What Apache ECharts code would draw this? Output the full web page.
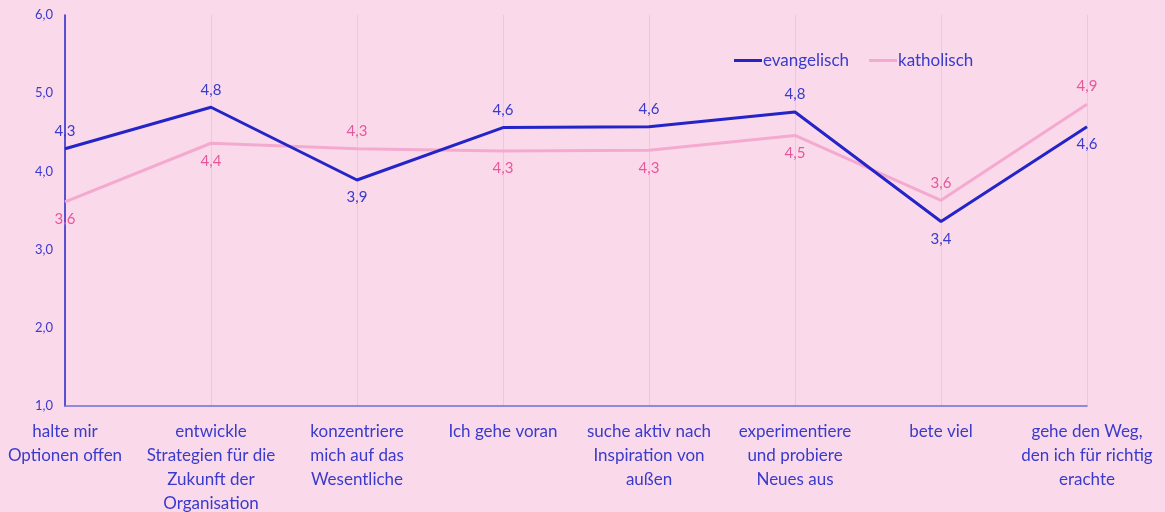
<!DOCTYPE html>
<html>
<head>
<meta charset="utf-8">
<script src="https://cdn.jsdelivr.net/npm/echarts@6/dist/echarts.min.js"></script>
<style>
  html, body { margin: 0; padding: 0; background: #fadaea; }
  #main { width: 1165px; height: 512px; }
</style>
</head>
<body>
<div id="main"></div>
<script>
// Kategorien (x-Achse)
var categories = [
    'halte mir\nOptionen offen',
    'entwickle\nStrategien für die\nZukunft der\nOrganisation',
    'konzentriere\nmich auf das\nWesentliche',
    'Ich gehe voran',
    'suche aktiv nach\nInspiration von\naußen',
    'experimentiere\nund probiere\nNeues aus',
    'bete viel',
    'gehe den Weg,\nden ich für richtig\nerachte'
];
var evangelisch = [4.29, 4.82, 3.89, 4.56, 4.57, 4.76, 3.36, 4.57];
var katholisch  = [3.61, 4.36, 4.29, 4.26, 4.27, 4.46, 3.63, 4.86];
var yTicks = [1, 2, 3, 4, 5, 6];

var blue = '#2424c8';
var pink = '#f4aacf';
var textBlue = '#3a3acb';
var textPink = '#e8579c';

function fmt(v) {
    return (Math.round(v * 10) / 10).toFixed(1).replace('.', ',');
}

// Label oben fuer die hoehere Linie, unten fuer die niedrigere
var evData = [];
var kaData = [];
for (var i = 0; i < categories.length; i++) {
    var evTop = evangelisch[i] >= katholisch[i];
    evData.push({ value: evangelisch[i], label: { position: evTop ? 'top' : 'bottom' } });
    kaData.push({ value: katholisch[i], label: { position: evTop ? 'bottom' : 'top' } });
}

var myChart = echarts.init(document.getElementById('main'));
var option = {
    backgroundColor: '#fadaea',
    textStyle: { fontFamily: 'Lato' },
    legend: {
        left: 729,
        top: 47,
        icon: 'rect',
        itemWidth: 28,
        itemHeight: 3,
        itemGap: 20,
        textStyle: { color: textBlue, fontSize: 17, fontFamily: 'Lato', padding: [0, 0, 0, -4] },
        data: ['evangelisch', 'katholisch']
    },
    grid: { left: 65, right: 78, top: 15, bottom: 106, outerBoundsMode: 'none', containLabel: false },
    xAxis: {
        type: 'category',
        boundaryGap: false,
        data: categories,
        axisLine: { lineStyle: { color: '#6f6fd8', width: 1.5 } },
        axisTick: { show: false },
        axisLabel: {
            color: textBlue,
            fontSize: 17,
            lineHeight: 24,
            margin: 14,
            interval: 0
        },
        splitLine: { show: true, lineStyle: { color: '#efc7da', width: 1 } }
    },
    yAxis: {
        type: 'value',
        min: yTicks[0],
        max: yTicks[yTicks.length - 1],
        interval: 1,
        axisLine: { show: true, lineStyle: { color: '#2424c8', width: 1.5 } },
        axisTick: { show: false },
        splitLine: { show: false },
        axisLabel: {
            color: textBlue,
            fontSize: 13,
            margin: 12,
            formatter: function (v) { return fmt(v); }
        }
    },
    series: [
        {
            name: 'evangelisch',
            type: 'line',
            data: evData,
            symbol: 'circle',
            symbolSize: 0.001,
            lineStyle: { color: blue, width: 3 },
            itemStyle: { color: blue },
            z: 3,
            label: {
                show: true,
                color: textBlue,
                fontSize: 15,
                distance: 10,
                formatter: function (p) { return fmt(p.value); }
            }
        },
        {
            name: 'katholisch',
            type: 'line',
            data: kaData,
            symbol: 'circle',
            symbolSize: 0.001,
            lineStyle: { color: pink, width: 3 },
            itemStyle: { color: pink },
            z: 2,
            label: {
                show: true,
                color: textPink,
                fontSize: 15,
                distance: 10,
                formatter: function (p) { return fmt(p.value); }
            }
        }
    ]
};
myChart.setOption(option);
</script>
</body>
</html>
